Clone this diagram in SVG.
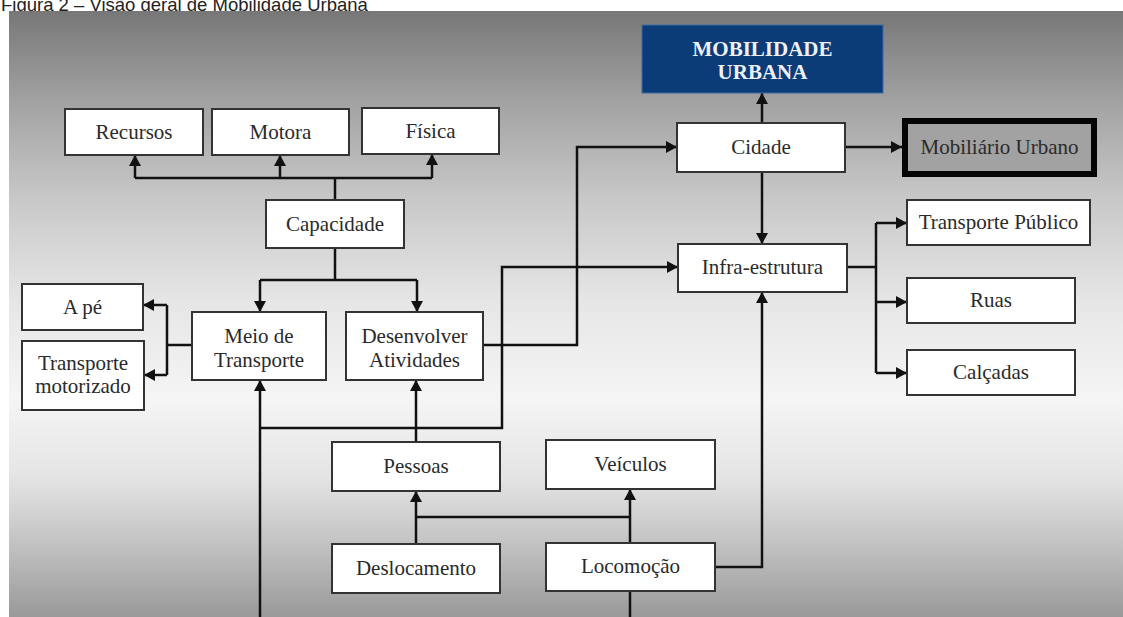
<svg xmlns="http://www.w3.org/2000/svg" width="1123" height="617" viewBox="0 0 1123 617">
<defs>
<linearGradient id="bg" x1="0" y1="0" x2="0" y2="1">
<stop offset="0" stop-color="#777777"/>
<stop offset="0.15" stop-color="#a2a2a2"/>
<stop offset="0.31" stop-color="#c8c8c8"/>
<stop offset="0.48" stop-color="#e6e6e6"/>
<stop offset="0.64" stop-color="#f5f5f5"/>
<stop offset="0.77" stop-color="#e4e4e4"/>
<stop offset="0.88" stop-color="#c2c2c2"/>
<stop offset="1" stop-color="#999999"/>
</linearGradient>
<marker id="ah" markerUnits="userSpaceOnUse" markerWidth="12" markerHeight="12" refX="11" refY="6" orient="auto">
<path d="M0,0 L11,6 L0,12 z" fill="#111"/>
</marker>
<style>
.box{fill:#ffffff;stroke:#333;stroke-width:2}
.t{font-family:"Liberation Serif","Times New Roman",serif;font-size:21px;fill:#2a2a2a;text-anchor:middle}
.c{fill:none;stroke:#111;stroke-width:2.5}
.a{marker-end:url(#ah)}
</style>
</defs>
<rect x="0" y="0" width="1123" height="617" fill="#ffffff"/>
<text x="1" y="11" font-family="'Liberation Sans',Arial,sans-serif" font-size="18.5" fill="#222">Figura 2 – Visão geral de Mobilidade Urbana</text>
<rect x="9" y="11" width="1114" height="606" fill="url(#bg)"/>

<g id="connectors">
<path class="c" d="M335,200 V178 M135,178 H432"/>
<path class="c a" d="M135,178 V155"/>
<path class="c a" d="M280,178 V155"/>
<path class="c a" d="M432,178 V154"/>
<path class="c" d="M335,248 V280 M260,280 H417"/>
<path class="c a" d="M260,280 V312"/>
<path class="c a" d="M417,280 V312"/>
<path class="c" d="M192,345 H167 M167,305 V375"/>
<path class="c a" d="M167,305 H143"/>
<path class="c a" d="M167,375 H144"/>
<path class="c a" d="M260,617 V380"/>
<path class="c a" d="M260,428 H502 V267 H678"/>
<path class="c a" d="M483,345 H577 V147 H677"/>
<path class="c a" d="M416,442 V380"/>
<path class="c a" d="M416,544 V491"/>
<path class="c" d="M416,517 H630"/>
<path class="c a" d="M630,543 V489"/>
<path class="c a" d="M715,567 H762 V292"/>
<path class="c" d="M630,591 V617"/>
<path class="c a" d="M762,123 V93"/>
<path class="c a" d="M845,147 H902"/>
<path class="c a" d="M762,172 V244"/>
<path class="c" d="M847,267 H876 M876,223 V373"/>
<path class="c a" d="M876,223 H907"/>
<path class="c a" d="M876,302 H907"/>
<path class="c a" d="M876,373 H907"/>
</g>

<g id="mobilidade-urbana">
<rect x="642" y="25" width="241" height="68" fill="#0b3c78" stroke="#3b6aa0" stroke-width="1"/>
<text class="t" x="762.5" y="56" font-weight="bold" style="fill:#eef0f6">MOBILIDADE</text>
<text class="t" x="762.5" y="79" font-weight="bold" style="fill:#eef0f6">URBANA</text>
</g>
<g id="recursos"><rect class="box" x="65" y="109" width="138" height="46"/><text class="t" x="134" y="139">Recursos</text></g>
<g id="motora"><rect class="box" x="212" y="109" width="137" height="46"/><text class="t" x="280.5" y="139">Motora</text></g>
<g id="fisica"><rect class="box" x="362" y="108" width="137" height="46"/><text class="t" x="430.5" y="138">Física</text></g>
<g id="capacidade"><rect class="box" x="266" y="200" width="138" height="48"/><text class="t" x="335" y="231">Capacidade</text></g>
<g id="a-pe"><rect class="box" x="22" y="284" width="121" height="46"/><text class="t" x="82.5" y="314">A pé</text></g>
<g id="transporte-motorizado"><rect class="box" x="22" y="341" width="122" height="69"/><text class="t" x="83" y="370">Transporte</text><text class="t" x="83" y="393">motorizado</text></g>
<g id="meio-de-transporte"><rect class="box" x="192" y="312" width="134" height="68"/><text class="t" x="259" y="343">Meio de</text><text class="t" x="259" y="367">Transporte</text></g>
<g id="desenvolver-atividades"><rect class="box" x="346" y="312" width="137" height="68"/><text class="t" x="414.5" y="343">Desenvolver</text><text class="t" x="414.5" y="367">Atividades</text></g>
<g id="pessoas"><rect class="box" x="332" y="442" width="168" height="49"/><text class="t" x="416" y="473">Pessoas</text></g>
<g id="veiculos"><rect class="box" x="546" y="440" width="169" height="49"/><text class="t" x="630.5" y="471">Veículos</text></g>
<g id="deslocamento"><rect class="box" x="332" y="544" width="168" height="49"/><text class="t" x="416" y="575">Deslocamento</text></g>
<g id="locomocao"><rect class="box" x="546" y="543" width="169" height="48"/><text class="t" x="630.5" y="573">Locomoção</text></g>
<g id="cidade"><rect class="box" x="677" y="123" width="168" height="49"/><text class="t" x="761" y="154">Cidade</text></g>
<g id="infra-estrutura"><rect class="box" x="678" y="244" width="169" height="48"/><text class="t" x="762.5" y="274">Infra-estrutura</text></g>
<g id="mobiliario-urbano"><rect x="905" y="121" width="189" height="53" fill="#a2a2a2" stroke="#050505" stroke-width="6"/><text class="t" x="999.5" y="154">Mobiliário Urbano</text></g>
<g id="transporte-publico"><rect class="box" x="907" y="200" width="183" height="45"/><text class="t" x="998.5" y="229">Transporte Público</text></g>
<g id="ruas"><rect class="box" x="907" y="278" width="168" height="45"/><text class="t" x="991" y="307">Ruas</text></g>
<g id="calcadas"><rect class="box" x="907" y="350" width="168" height="45"/><text class="t" x="991" y="379">Calçadas</text></g>
</svg>
